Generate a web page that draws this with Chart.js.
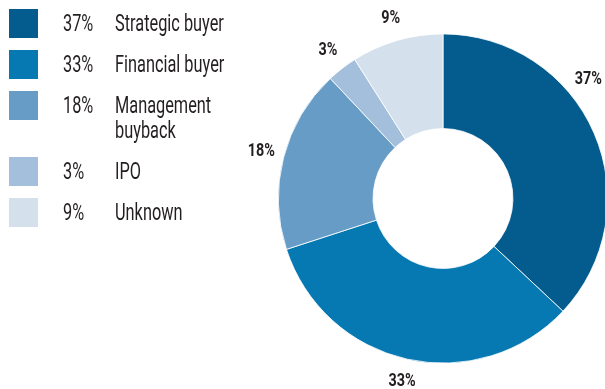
<!DOCTYPE html>
<html>
<head>
<meta charset="utf-8">
<script src="https://cdn.jsdelivr.net/npm/chart.js@4.4.1/dist/chart.umd.min.js"></script>
<style>
  html, body { margin: 0; padding: 0; background: #fff; overflow: hidden; width: 605px; height: 389px; }
  #wrap { position: absolute; left: 0; top: 0; width: 660px; height: 389px; }
  #legend { position: absolute; left: 0; top: 0; width: 260px; height: 389px; }
  .sw { position: absolute; left: 9px; width: 29px; height: 29px; }
  .txt { position: absolute; white-space: nowrap; color: #231f20;
         font-family: Roboto, "Liberation Sans", sans-serif;
         font-size: 23px; line-height: 25px; transform: scaleX(0.71); transform-origin: left top; }
</style>
</head>
<body>
<div id="wrap"><canvas id="c" width="660" height="389"></canvas></div>
<div id="legend"></div>
<script>
// Exit routes and their shares (percent), drawn clockwise from 12 o'clock
const categories = ["Strategic buyer", "Financial buyer", "Management\nbuyback", "IPO", "Unknown"];
const shares = [37, 33, 18, 3, 9];
const colors = ["#035b8e", "#0779b2", "#669cc6", "#a3bfdb", "#d4e1ed"];

const VIEW_W = 605;
const TEXT = "#231f20";
const LABEL_SQUEEZE = 0.8;

// Percent labels around the ring, slid along the circle if they would leave the view
const ringLabels = {
  id: "ringLabels",
  afterDatasetsDraw(chart) {
    const ctx = chart.ctx;
    const meta = chart.getDatasetMeta(0);
    ctx.save();
    ctx.font = "bold 18px Roboto, 'Liberation Sans', sans-serif";
    ctx.fillStyle = TEXT;
    ctx.textAlign = "center";
    ctx.textBaseline = "middle";
    meta.data.forEach((arc, i) => {
      const p = arc.getProps(["x", "y", "startAngle", "endAngle", "outerRadius"], true);
      const r = p.outerRadius + 23;
      let a = (p.startAngle + p.endAngle) / 2;
      const label = shares[i] + "%";
      const half = ctx.measureText(label).width * LABEL_SQUEEZE / 2 + 3;
      let x = p.x + r * Math.cos(a);
      if (x + half > VIEW_W) {
        const s = Math.min(1, (VIEW_W - half - p.x) / r);
        a = -Math.acos(s);
        x = p.x + r * Math.cos(a);
      }
      const y = p.y + r * Math.sin(a);
      ctx.save();
      ctx.translate(x, y);
      ctx.scale(LABEL_SQUEEZE, 1);
      ctx.fillText(label, 0, 0);
      ctx.restore();
    });
    ctx.restore();
  }
};

new Chart(document.getElementById("c"), {
  type: "doughnut",
  data: {
    labels: categories,
    datasets: [{
      data: shares,
      backgroundColor: colors,
      borderColor: "#ffffff",
      borderWidth: 0.8,
      hoverOffset: 0
    }]
  },
  options: {
    responsive: false,
    animation: false,
    cutout: "42.5%",
    rotation: 0,
    layout: { padding: { left: 278, right: 52, top: 33.5, bottom: 25.5 } },
    plugins: { legend: { display: false }, tooltip: { enabled: false } }
  },
  plugins: [ringLabels]
});

// Legend: swatch, share and name; multi-line names push later rows down
const legendBox = document.getElementById("legend");
let rowTop = 9;
categories.forEach((name, i) => {
  const lines = name.split("\n");
  const sw = document.createElement("div");
  sw.className = "sw";
  sw.style.top = rowTop + "px";
  sw.style.background = colors[i];
  legendBox.appendChild(sw);

  const pct = document.createElement("div");
  pct.className = "txt";
  pct.style.left = "63px";
  pct.style.top = (rowTop + 2) + "px";
  pct.textContent = shares[i] + "%";
  legendBox.appendChild(pct);

  const nm = document.createElement("div");
  nm.className = "txt";
  nm.style.left = "115px";
  nm.style.top = (rowTop + 2) + "px";
  nm.innerHTML = lines.join("<br>");
  legendBox.appendChild(nm);

  rowTop += 41 + (lines.length - 1) * 25;
});
</script>
</body>
</html>
